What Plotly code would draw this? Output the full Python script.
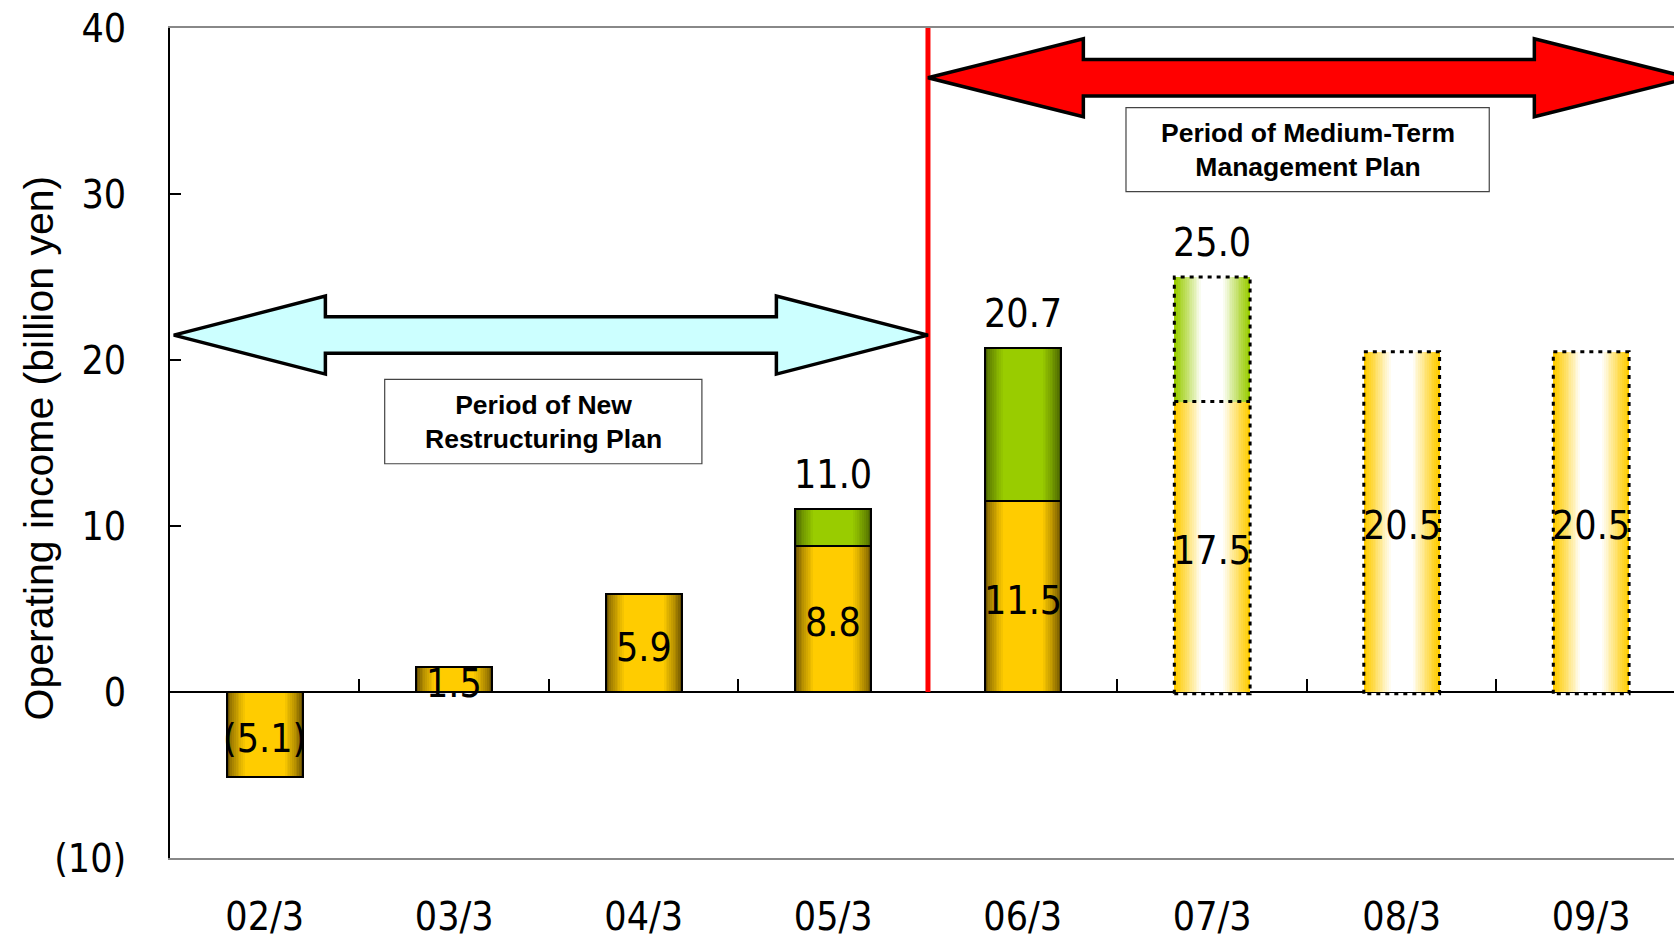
import plotly.graph_objects as go

# ---------------- data ----------------
categories = ["02/3", "03/3", "04/3", "05/3", "06/3", "07/3", "08/3", "09/3"]
base_income = [-5.1, 1.5, 5.9, 8.8, 11.5, 17.5, 20.5, 20.5]
increment = [0.0, 0.0, 0.0, 2.2, 9.2, 7.5, 0.0, 0.0]
total_income = [None, None, None, 11.0, 20.7, 25.0, None, None]
is_forecast = [False, False, False, False, False, True, True, True]
base_labels = ["(5.1)", "1.5", "5.9", "8.8", "11.5", "17.5", "20.5", "20.5"]
total_labels = ["", "", "", "11.0", "20.7", "25.0", "", ""]

y_tickvals = [-10, 0, 10, 20, 30, 40]
y_ticktext = ["(10)", "0", "10", "20", "30", "40"]

y_title = "Operating income (billion yen)"
new_plan_label = "Period of New<br>Restructuring Plan"
mid_plan_label = "Period of Medium-Term<br>Management Plan"

# ---------------- style ----------------
NARROW = "Liberation Sans Narrow, Arial Narrow, DejaVu Sans Condensed, sans-serif"
BOLD = "Liberation Sans, Arial, sans-serif"
BAR_W = 0.40
N_LAYERS = 18

GOLD_EDGE = (105, 80, 0)
GOLD = (255, 204, 0)
GREEN_EDGE = (70, 95, 0)
GREEN = (153, 204, 0)
WHITE = (255, 255, 255)


def mix(c1, c2, t):
    return "rgb(%d,%d,%d)" % tuple(round(a + (b - a) * t) for a, b in zip(c1, c2))


idx = list(range(len(categories)))
fig = go.Figure()

# gradient bars built from nested overlaid bars
for k in range(N_LAYERS):
    t = k / (N_LAYERS - 1)
    frac = 1.0 - 0.80 * t
    s_solid = min(1.0, t * 1.7) ** 0.7
    s_fc = min(1.0, t * 1.15) ** 1.1
    w = [BAR_W * frac] * len(idx)
    gold_cols = [mix(GOLD, WHITE, s_fc) if f else mix(GOLD_EDGE, GOLD, s_solid) for f in is_forecast]
    green_cols = [mix(GREEN, WHITE, s_fc) if f else mix(GREEN_EDGE, GREEN, s_solid) for f in is_forecast]
    fig.add_trace(go.Bar(x=idx, y=base_income, width=w, marker=dict(color=gold_cols, line=dict(width=0)),
                         showlegend=False, hoverinfo="skip"))
    fig.add_trace(go.Bar(x=idx, y=increment, base=base_income, width=w,
                         marker=dict(color=green_cols, line=dict(width=0)),
                         showlegend=False, hoverinfo="skip"))

# solid outlines for actual results
solid_w = [0 if f else 2 for f in is_forecast]
fig.add_trace(go.Bar(x=idx, y=base_income, width=BAR_W,
                     marker=dict(color="rgba(0,0,0,0)", line=dict(color="black", width=solid_w)),
                     showlegend=False, hoverinfo="skip"))
fig.add_trace(go.Bar(x=idx, y=increment, base=base_income, width=BAR_W,
                     marker=dict(color="rgba(0,0,0,0)",
                                 line=dict(color="black", width=[w if inc > 0 else 0 for w, inc in zip(solid_w, increment)])),
                     showlegend=False, hoverinfo="skip"))

# dotted outlines for forecasts
ox, oy = [], []
for i, f in enumerate(is_forecast):
    if not f:
        continue
    top = base_income[i] + increment[i]
    x0, x1 = i - BAR_W / 2, i + BAR_W / 2
    ox += [x0, x0, x1, x1, x0, None]
    oy += [-0.1, top, top, -0.1, -0.1, None]
    if increment[i] > 0:
        ox += [x0, x1, None]
        oy += [base_income[i], base_income[i], None]
fig.add_trace(go.Scatter(x=ox, y=oy, mode="lines", line=dict(color="black", width=3, dash="4px,5px"),
                         showlegend=False, hoverinfo="skip"))


def dbl_arrow(x0, x1, yc, hl, hh, sh):
    pts = [(x0, yc), (x0 + hl, yc + hh), (x0 + hl, yc + sh), (x1 - hl, yc + sh), (x1 - hl, yc + hh),
           (x1, yc), (x1 - hl, yc - hh), (x1 - hl, yc - sh), (x0 + hl, yc - sh), (x0 + hl, yc - hh)]
    return "M " + " L ".join("%.4f,%.4f" % p for p in pts) + " Z"


shapes = [
    dict(type="line", xref="x", yref="y", x0=3.5, x1=3.5, y0=0, y1=40,
         line=dict(color="#FF0000", width=5), layer="above"),
    dict(type="path", xref="x", yref="y", path=dbl_arrow(-0.48, 3.5, 21.5, 0.80, 2.35, 1.1),
         fillcolor="#CCFFFF", line=dict(color="black", width=3.5), layer="above"),
    dict(type="path", xref="x", yref="y", path=dbl_arrow(3.5, 7.52, 37.0, 0.82, 2.35, 1.1),
         fillcolor="#FF0000", line=dict(color="black", width=3.5), layer="above"),
    dict(type="rect", xref="x", yref="y", x0=0.633, x1=2.307, y0=13.75, y1=18.83,
         fillcolor="white", line=dict(color="#444444", width=1.2), layer="above"),
    dict(type="rect", xref="x", yref="y", x0=4.545, x1=6.462, y0=30.14, y1=35.2,
         fillcolor="white", line=dict(color="#444444", width=1.2), layer="above"),
]

annotations = [
    dict(x=(0.633 + 2.307) / 2, y=(13.75 + 18.83) / 2, xref="x", yref="y", text="<b>" + new_plan_label + "</b>",
         showarrow=False, font=dict(family=BOLD, size=26.5, color="black"), align="center"),
    dict(x=(4.545 + 6.462) / 2, y=(30.14 + 35.2) / 2, xref="x", yref="y", text="<b>" + mid_plan_label + "</b>",
         showarrow=False, font=dict(family=BOLD, size=26.5, color="black"), align="center"),
    dict(x=-0.0868, y=0.494, xref="paper", yref="paper", text=y_title, textangle=-90,
         showarrow=False, xanchor="center", yanchor="middle",
         font=dict(family="Liberation Sans, Arial, sans-serif", size=41, color="black")),
]
# value labels (middle of the base segment) and totals above stacked bars
for i in idx:
    annotations.append(dict(x=i, y=base_income[i] / 2, xref="x", yref="y", text=base_labels[i],
                            showarrow=False, yshift=-4,
                            font=dict(family=NARROW, size=39, color="black")))
    if total_income[i] is not None:
        annotations.append(dict(x=i, y=total_income[i], xref="x", yref="y", text=total_labels[i],
                                showarrow=False, yanchor="bottom", yshift=10,
                                font=dict(family=NARROW, size=39, color="black")))

XR = [-0.5, 7.437]
fig.update_layout(
    width=1674, height=938,
    margin=dict(l=170, r=0, t=28, b=80),
    paper_bgcolor="white", plot_bgcolor="white",
    barmode="overlay", bargap=0,
    showlegend=False,
    shapes=shapes, annotations=annotations,
    xaxis=dict(range=XR, tickvals=idx, ticktext=categories, showgrid=False, zeroline=False,
               showline=True, linecolor="#888888", linewidth=2, mirror=True, ticks="",
               ticklabelstandoff=23,
               tickfont=dict(family=NARROW, size=39, color="black")),
    xaxis2=dict(range=XR, overlaying="x", anchor="free", position=0.2, side="bottom",
                tickvals=[i + 0.5 for i in idx], ticks="inside", ticklen=13, tickwidth=1.5,
                tickcolor="black", showticklabels=False, showline=False, showgrid=False, zeroline=False),
    yaxis=dict(range=[-10, 40], tickvals=y_tickvals, ticktext=y_ticktext, showgrid=False,
               zeroline=True, zerolinecolor="black", zerolinewidth=2,
               showline=True, linecolor="black", linewidth=2, ticks="inside", ticklen=11,
               tickwidth=2, tickcolor="black", ticklabelstandoff=34,
               tickfont=dict(family=NARROW, size=39, color="black")),
)
# dummy trace to activate xaxis2 ticks
fig.add_trace(go.Scatter(x=[None], y=[None], xaxis="x2", showlegend=False, hoverinfo="skip"))

fig.write_html("out.html")
